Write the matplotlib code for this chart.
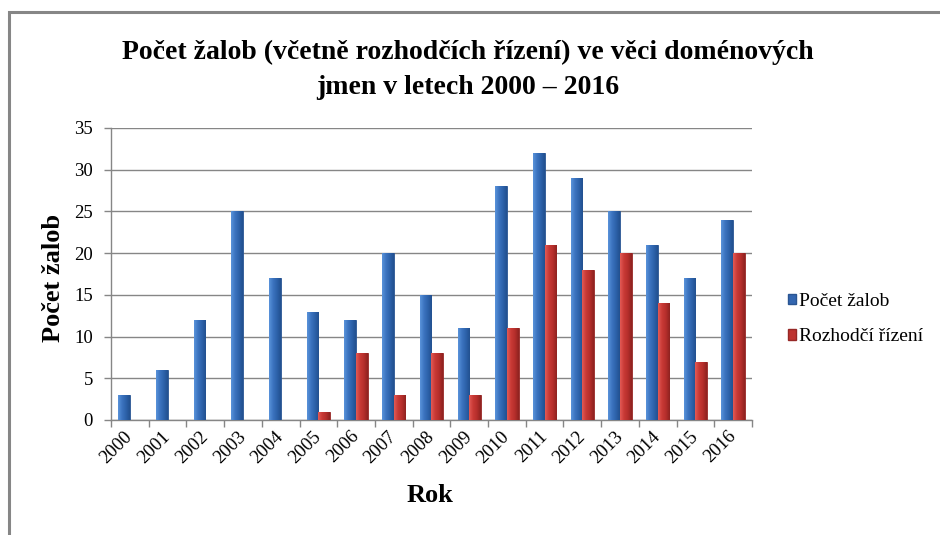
import numpy as np
import matplotlib
matplotlib.use("Agg")
import matplotlib.pyplot as plt
from matplotlib.colors import LinearSegmentedColormap
from matplotlib.patches import Rectangle, Patch

years = ["2000", "2001", "2002", "2003", "2004", "2005", "2006", "2007", "2008",
         "2009", "2010", "2011", "2012", "2013", "2014", "2015", "2016"]
zaloby = [3, 6, 12, 25, 17, 13, 12, 20, 15, 11, 28, 32, 29, 25, 21, 17, 24]
rizeni = [0, 0, 0, 0, 0, 1, 8, 3, 8, 3, 11, 21, 18, 20, 14, 7, 20]
series_names = ["Počet žalob", "Rozhodčí řízení"]
title = "Počet žalob (včetně rozhodčích řízení) ve věci doménových\njmen v letech 2000 – 2016"
yticks = [0, 5, 10, 15, 20, 25, 30, 35]

plt.rcParams['font.family'] = ['Liberation Serif', 'DejaVu Serif']

fig = plt.figure(figsize=(9.4, 5.35), dpi=100)
# outer chart frame
fig.patches.append(Rectangle((9 / 940, -0.1), 1.2, 1 - 12 / 535 + 0.1,
                             transform=fig.transFigure, fill=False,
                             edgecolor="#868686", linewidth=2.2))

ax = fig.add_axes([111 / 940, 1 - 420 / 535, (752 - 111) / 940, (420 - 128) / 535])

x = np.arange(len(years))
w = 0.31
blue_cmap = LinearSegmentedColormap.from_list("b", ["#5A93DA", "#3C74C0", "#2D62AA", "#22508F"])
red_cmap = LinearSegmentedColormap.from_list("r", ["#E25A55", "#C93A36", "#B52E2B", "#8E2220"])
grad = np.linspace(0, 1, 64).reshape(1, -1)

bars1 = ax.bar(x - w / 2, zaloby, w, color="#3366B0", edgecolor="#2A5592", linewidth=0.6, zorder=3,
               label=series_names[0])
bars2 = ax.bar(x + w / 2, rizeni, w, color="#BE3431", edgecolor="#962826", linewidth=0.6, zorder=3,
               label=series_names[1])
for bars, cmap in ((bars1, blue_cmap), (bars2, red_cmap)):
    for b in bars:
        h = b.get_height()
        if h <= 0:
            continue
        x0 = b.get_x()
        im = ax.imshow(grad, extent=[x0, x0 + b.get_width(), 0, h], aspect="auto",
                       cmap=cmap, zorder=3.5, interpolation="bilinear")
        im.set_clip_path(b)

ax.set_xlim(-0.5, len(years) - 0.5)
ax.set_ylim(0, 35)
ax.set_yticks(yticks)
ax.set_yticklabels([str(t) for t in yticks], fontsize=13.5)
ax.yaxis.grid(True, color="#868686", linewidth=1.0, zorder=0)
ax.set_axisbelow(True)

ax.set_xticks(x)
ax.set_xticklabels(years, rotation=45, ha="right", va="center", rotation_mode="anchor", fontsize=13.5)
ax.set_xticks(np.arange(-0.5, len(years) + 0.5, 1), minor=True)
ax.tick_params(axis="x", which="major", length=0, pad=10)
ax.tick_params(axis="x", which="minor", length=5, color="#868686", width=1)
ax.tick_params(axis="y", length=5, color="#868686", width=1, pad=8)

for s in ["top", "right"]:
    ax.spines[s].set_visible(False)
for s in ["left", "bottom"]:
    ax.spines[s].set_color("#868686")
    ax.spines[s].set_linewidth(1.0)

fig.text(53 / 940, 1 - 278 / 535, "Počet žalob", fontsize=19, fontweight="bold", ha="center", va="center",
         rotation=90)
fig.text(430 / 940, 1 - 496 / 535, "Rok", fontsize=19, fontweight="bold", ha="center", va="center")
fig.text(468 / 940, 1 - 70 / 535, title, fontsize=20, fontweight="bold", ha="center", va="center",
         linespacing=1.5)

handles = [Patch(facecolor="#3366B0", edgecolor="#2A5592"), Patch(facecolor="#BE3431", edgecolor="#962826")]
fig.legend(handles, series_names, loc="center left", bbox_to_anchor=(778 / 940, 1 - 319 / 535),
           frameon=False, fontsize=14, handlelength=0.45, handleheight=0.45, handletextpad=0.15,
           labelspacing=0.95, borderpad=0)

fig.savefig("out.png", dpi=100)
